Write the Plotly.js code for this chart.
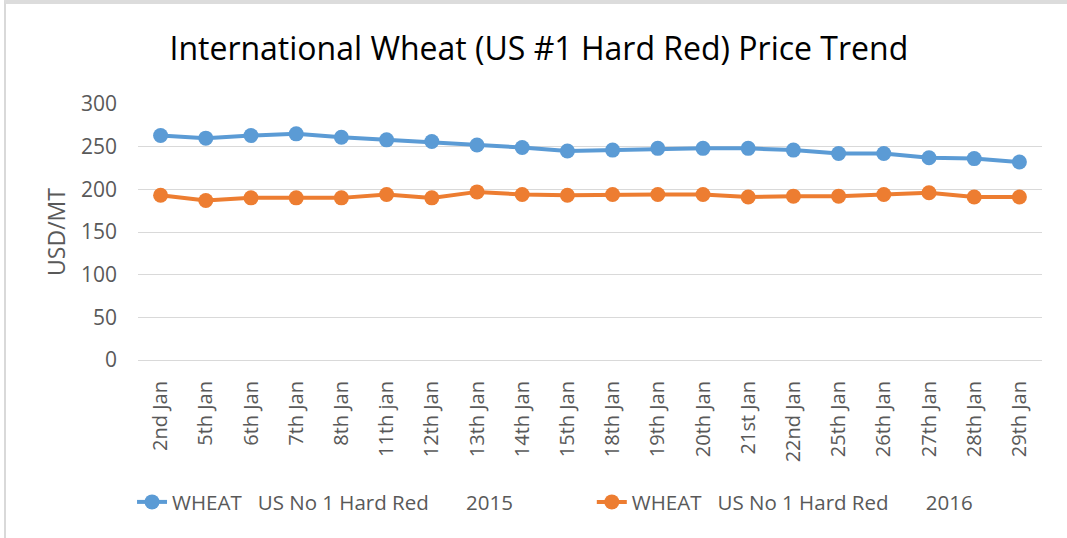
<!DOCTYPE html>
<html>
<head>
<meta charset="utf-8">
<script src="https://cdn.plot.ly/plotly-3.0.1.min.js"></script>
<style>
  html, body { margin: 0; padding: 0; background: #fff; }
  #wrap { position: relative; width: 1067px; height: 538px; }
  #chart { width: 1067px; height: 538px; }
  #frame { position: absolute; left: 4px; top: 0; width: 1063px; height: 538px;
           border-left: 2px solid #d9d9d9; border-top: 4px solid #dcdcdc; box-sizing: border-box; pointer-events: none; }
</style>
</head>
<body>
<div id="wrap">
  <div id="chart"></div>
  <div id="frame"></div>
</div>
<script>
const dates = ["2nd Jan", "5th Jan", "6th Jan", "7th Jan", "8th Jan", "11th jan", "12th Jan", "13th Jan", "14th Jan", "15th Jan",
               "18th Jan", "19th Jan", "20th Jan", "21st Jan", "22nd Jan", "25th Jan", "26th Jan", "27th Jan", "28th Jan", "29th Jan"];
const wheat2015 = [263, 260, 263, 265, 261, 258, 256, 252, 249, 245, 246, 248, 248, 248, 246, 242, 242, 237, 236, 232];
const wheat2016 = [193, 187, 190, 190, 190, 194, 190, 197, 194, 193, 194, 194, 194, 191, 192, 192, 194, 196, 191, 191];
const name2015 = "WHEAT\u00A0\u00A0\u00A0US No 1 Hard Red\u00A0\u00A0\u00A0\u00A0\u00A0\u00A0\u00A02015";
const name2016 = "WHEAT\u00A0\u00A0\u00A0US No 1 Hard Red\u00A0\u00A0\u00A0\u00A0\u00A0\u00A0\u00A02016";
const yTicks = [0, 50, 100, 150, 200, 250, 300];

const FONT = "'Open Sans', sans-serif";
const traces = [
  { x: dates, y: wheat2015, name: name2015, type: "scatter", mode: "lines+markers", legend: "legend",
    line: { color: "#5b9bd5", width: 4 }, marker: { color: "#5b9bd5", size: 15 } },
  { x: dates, y: wheat2016, name: name2016, type: "scatter", mode: "lines+markers", legend: "legend2",
    line: { color: "#ed7d31", width: 4 }, marker: { color: "#ed7d31", size: 15 } }
];

const legendStyle = { orientation: "h", xanchor: "left", y: -0.555, yanchor: "middle",
                      font: { size: 20.5, color: "#595959" }, bgcolor: "rgba(0,0,0,0)" };

const layout = {
  width: 1067, height: 538,
  margin: { l: 138, r: 25, t: 104, b: 178 },
  paper_bgcolor: "#fff", plot_bgcolor: "#fff",
  font: { family: FONT, color: "#595959", size: 20 },
  title: { text: "International Wheat (US #1 Hard Red) Price Trend", x: 0.505, xref: "container",
           y: 0.909, yref: "container", yanchor: "middle",
           font: { family: FONT, size: 32, color: "#000" } },
  xaxis: { type: "category", range: [-0.5, dates.length - 0.5], tickangle: -90, showgrid: false, zeroline: false,
           showline: true, linecolor: "#d9d9d9", linewidth: 1, ticks: "",
           ticklabelstandoff: 12, tickfont: { size: 20, color: "#595959" }, fixedrange: true },
  yaxis: { range: [0, 300], tickvals: yTicks, ticktext: yTicks.map(String), showgrid: true, gridcolor: "#d9d9d9",
           gridwidth: 1, zeroline: false, showline: false, ticks: "", ticklabelstandoff: 20,
           tickfont: { size: 21, color: "#595959" },
           title: { text: "USD/MT", font: { size: 23, color: "#595959" }, standoff: 8 }, fixedrange: true },
  showlegend: true,
  legend: Object.assign({}, legendStyle, { x: -0.0066 }),
  legend2: Object.assign({}, legendStyle, { x: 0.502 })
};

Plotly.newPlot("chart", traces, layout, { displayModeBar: false, staticPlot: true });
</script>
</body>
</html>
